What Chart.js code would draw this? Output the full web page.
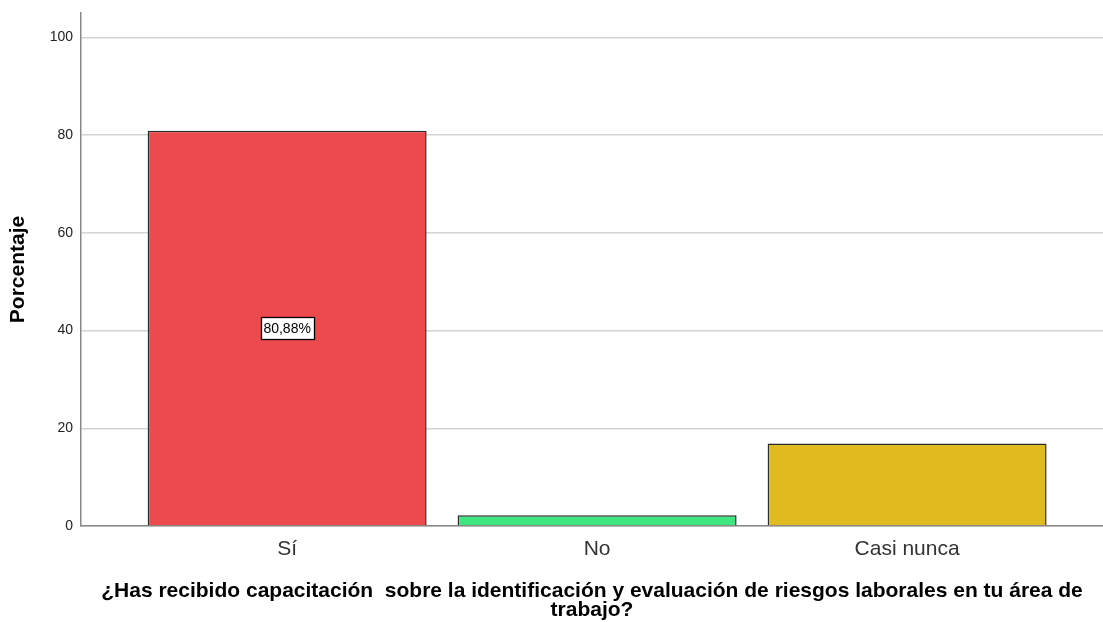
<!DOCTYPE html>
<html>
<head>
<meta charset="utf-8">
<script src="https://cdn.jsdelivr.net/npm/chart.js@4"></script>
<style>
  html, body { margin: 0; padding: 0; background: #fff; }
  #wrap { width: 1103px; height: 622px; }
</style>
</head>
<body>
<div id="wrap"><canvas id="barChart" width="1103" height="622"></canvas></div>
<script>
// Respuestas y porcentajes
const categories = ["Sí", "No", "Casi nunca"];
const percentages = [80.88, 2.21, 16.91];
const barColors = ["#EC4A4C", "#3FE57E", "#E0BB1F"];
const yTicks = [0, 20, 40, 60, 80, 100];
const labelled = [true, false, false];

const FONT = "'Liberation Sans', Arial, sans-serif";

// Etiqueta con recuadro blanco en el centro de la barra
const valueBoxes = {
    id: "valueBoxes",
    afterDatasetsDraw(chart) {
        const ctx = chart.ctx;
        const meta = chart.getDatasetMeta(0);
        const y = chart.scales.y;
        ctx.save();
        ctx.font = "14px " + FONT;
        ctx.textAlign = "center";
        ctx.textBaseline = "middle";
        meta.data.forEach((bar, i) => {
            if (!labelled[i]) return;
            const text = percentages[i].toFixed(2).replace(".", ",") + "%";
            const cy = y.getPixelForValue(percentages[i] / 2);
            const w = Math.round(ctx.measureText(text).width + 6);
            const h = 22;
            const x0 = Math.round(bar.x - w / 2) + 0.5;
            const y0 = Math.round(cy - h / 2) + 0.5;
            ctx.fillStyle = "#fff";
            ctx.fillRect(x0, y0, w, h);
            ctx.strokeStyle = "#000";
            ctx.lineWidth = 1.3;
            ctx.strokeRect(x0, y0, w, h);
            ctx.fillStyle = "#000";
            ctx.fillText(text, bar.x, cy + 1);
        });
        ctx.restore();
    }
};

const ctx = document.getElementById("barChart").getContext("2d");
const barChart = new Chart(ctx, {
    type: "bar",
    data: {
        datasets: [{
            data: percentages.map((v, i) => ({ x: i, y: v })),
            backgroundColor: barColors,
            borderColor: "#2a2a2a",
            borderWidth: 1.5,
            borderSkipped: "bottom",
            categoryPercentage: 1,
            barPercentage: 0.9,
        }],
    },
    options: {
        responsive: false,
        animation: false,
        layout: { padding: { top: 13, right: 0, left: 0, bottom: 0 } },
        plugins: {
            legend: { display: false },
            tooltip: { enabled: false },
        },
        scales: {
            x: {
                type: "linear",
                offset: false,
                bounds: "data",
                min: -0.665,
                max: 2.632,
                afterBuildTicks: (scale) => {
                    scale.ticks = categories.map((c, i) => ({ value: i }));
                },
                afterFit: (scale) => {
                    scale.height = 96;
                    scale.paddingLeft = 0;
                    scale.paddingRight = 0;
                },
                ticks: {
                    callback: (v) => categories[v],
                    color: "#333",
                    font: { family: FONT, size: 21 },
                    padding: 11,
                    maxRotation: 0,
                    autoSkip: false,
                },
                grid: { display: false, drawTicks: false, offset: false },
                border: { color: "#888", width: 1.5 },
                title: {
                    display: true,
                    text: ["¿Has recibido capacitación  sobre la identificación y evaluación de riesgos laborales en tu área de", "trabajo?"],
                    color: "#000",
                    font: { family: FONT, size: 21, weight: "bold", lineHeight: 0.9 },
                    padding: { top: 0, bottom: 2 },
                },
            },
            y: {
                min: 0,
                max: 105,
                afterBuildTicks: (scale) => {
                    scale.ticks = yTicks.map((v) => ({ value: v }));
                },
                afterFit: (scale) => {
                    scale.width = 81;
                    scale.paddingTop = 0;
                    scale.paddingBottom = 0;
                },
                ticks: {
                    color: "#222",
                    font: { family: FONT, size: 14 },
                    padding: 8,
                },
                grid: { color: "#d4d4d4", lineWidth: 1.5, drawTicks: false },
                border: { color: "#888", width: 1.5 },
                title: {
                    display: true,
                    text: "Porcentaje",
                    color: "#000",
                    font: { family: FONT, size: 21, weight: "bold" },
                    padding: { top: 6, bottom: 0 },
                },
            },
        },
    },
    plugins: [valueBoxes],
});
</script>
</body>
</html>
